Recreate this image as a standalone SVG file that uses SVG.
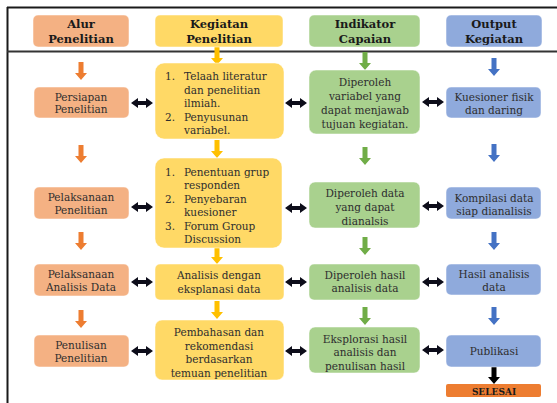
<svg xmlns="http://www.w3.org/2000/svg" width="557" height="403" viewBox="0 0 557 403">
<style>
.t{font-family:"DejaVu Serif","Bookman Old Style",serif;font-size:10.5px;fill:#2e2e2e;text-anchor:middle}
.l{text-anchor:start}
.h{font-family:"DejaVu Serif",serif;font-size:11.5px;font-weight:bold;fill:#1a1a1a;text-anchor:middle}
.or{fill:#F4B183}.ye{fill:#FFD966}.gr{fill:#A9D18E}.bl{fill:#8FAADC}
.bx{stroke:#ffffff;stroke-opacity:0.5;stroke-width:1}
</style>
<defs>
<path id="dn" d="M-2.5,0 H2.5 V11 H6 L0,18 L-6,11 H-2.5 Z"/>
<path id="dbl" d="M0,0 L7,-5 V-2 H15 V-5 L22,0 L15,5 V2 H7 V5 Z" fill="#0d0d1a"/>
</defs>
<rect width="557" height="403" fill="#ffffff"/>
<g id="frame" stroke="#1a1a1a" fill="none">
<line x1="7" y1="7.5" x2="557" y2="7.5" stroke-width="2"/>
<line x1="7.5" y1="7" x2="7.5" y2="403" stroke-width="2"/>
<line x1="7" y1="51.5" x2="557" y2="51.5" stroke-width="2" stroke="#333"/>
</g>
<g id="connectors">
<g fill="#ED7D31">
<use href="#dn" x="81" y="62"/><use href="#dn" x="81" y="145"/><use href="#dn" x="81" y="232"/><use href="#dn" x="81" y="310"/>
</g>
<g fill="#FFC000">
<use href="#dn" x="217" y="47"/><use href="#dn" x="217" y="140"/><use href="#dn" x="217" y="246"/><use href="#dn" x="217" y="301"/>
</g>
<g fill="#70AD47">
<use href="#dn" x="365" y="52"/><use href="#dn" x="365" y="147"/><use href="#dn" x="365" y="237"/><use href="#dn" x="365" y="307"/>
</g>
<g fill="#4472C4">
<use href="#dn" x="494" y="58"/><use href="#dn" x="494" y="144"/><use href="#dn" x="494" y="232"/><use href="#dn" x="494" y="307"/>
</g>
<use href="#dn" x="494" y="366" fill="#000"/>
<use href="#dbl" x="131" y="103"/><use href="#dbl" x="285" y="103"/><use href="#dbl" x="422" y="102"/>
<use href="#dbl" x="131" y="207"/><use href="#dbl" x="285" y="208"/><use href="#dbl" x="422" y="206"/>
<use href="#dbl" x="131" y="282"/><use href="#dbl" x="285" y="282"/><use href="#dbl" x="422" y="282"/>
<use href="#dbl" x="131" y="351"/><use href="#dbl" x="285" y="351"/><use href="#dbl" x="422" y="350"/>
</g>
<g id="h-alur"><rect class="or bx" x="33" y="15" width="96" height="32" rx="5"/><text class="h" x="81" y="28">Alur</text><text class="h" x="81" y="43">Penelitian</text></g>
<g id="h-kegiatan"><rect class="ye bx" x="155" y="15" width="128" height="32" rx="5"/><text class="h" x="219" y="28">Kegiatan</text><text class="h" x="219" y="43">Penelitian</text></g>
<g id="h-indikator"><rect class="gr bx" x="309" y="15" width="111" height="32" rx="5"/><text class="h" x="365" y="28">Indikator</text><text class="h" x="365" y="43">Capaian</text></g>
<g id="h-output"><rect class="bl bx" x="446" y="15" width="96" height="32" rx="5"/><text class="h" x="494" y="28">Output</text><text class="h" x="494" y="43">Kegiatan</text></g>

<g id="a1"><rect class="or bx" x="34" y="87" width="95" height="31" rx="5"/><text class="t" x="81" y="101">Persiapan</text><text class="t" x="81" y="113">Penelitian</text></g>
<g id="a2"><rect class="or bx" x="34" y="187" width="95" height="32" rx="5"/><text class="t" x="81" y="201">Pelaksanaan</text><text class="t" x="81" y="214">Penelitian</text></g>
<g id="a3"><rect class="or bx" x="34" y="264" width="95" height="32" rx="5"/><text class="t" x="81" y="278">Pelaksanaan</text><text class="t" x="81" y="291">Analisis Data</text></g>
<g id="a4"><rect class="or bx" x="34" y="335" width="95" height="32" rx="5"/><text class="t" x="81" y="349">Penulisan</text><text class="t" x="81" y="362">Penelitian</text></g>

<g id="k1"><rect class="ye bx" x="155" y="63" width="129" height="76" rx="9"/>
<text class="t l" x="165" y="80">1.</text><text class="t l" x="184" y="80">Telaah literatur</text>
<text class="t l" x="184" y="94">dan penelitian</text><text class="t l" x="184" y="107">ilmiah.</text>
<text class="t l" x="165" y="121">2.</text><text class="t l" x="184" y="121">Penyusunan</text>
<text class="t l" x="184" y="134">variabel.</text></g>
<g id="k2"><rect class="ye bx" x="155" y="158" width="127" height="90" rx="9"/>
<text class="t l" x="165" y="176">1.</text><text class="t l" x="184" y="176">Penentuan grup</text>
<text class="t l" x="184" y="189">responden</text>
<text class="t l" x="165" y="203">2.</text><text class="t l" x="184" y="203">Penyebaran</text>
<text class="t l" x="184" y="216">kuesioner</text>
<text class="t l" x="165" y="230">3.</text><text class="t l" x="184" y="230">Forum Group</text>
<text class="t l" x="184" y="243">Discussion</text></g>
<g id="k3"><rect class="ye bx" x="155" y="264" width="129" height="36" rx="5"/><text class="t" x="219" y="279">Analisis dengan</text><text class="t" x="219" y="293">eksplanasi data</text></g>
<g id="k4"><rect class="ye bx" x="155" y="320" width="129" height="60" rx="7"/><text class="t" x="219" y="336">Pembahasan dan</text><text class="t" x="219" y="350">rekomendasi</text><text class="t" x="219" y="363">berdasarkan</text><text class="t" x="219" y="377">temuan penelitian</text></g>

<g id="i1"><rect class="gr bx" x="309" y="70" width="111" height="64" rx="7"/><text class="t" x="365" y="86">Diperoleh</text><text class="t" x="365" y="100">variabel yang</text><text class="t" x="365" y="114">dapat menjawab</text><text class="t" x="365" y="128">tujuan kegiatan.</text></g>
<g id="i2"><rect class="gr bx" x="309" y="182" width="111" height="46" rx="6"/><text class="t" x="365" y="197">Diperoleh data</text><text class="t" x="365" y="211">yang dapat</text><text class="t" x="365" y="225">dianalsis</text></g>
<g id="i3"><rect class="gr bx" x="309" y="264" width="111" height="36" rx="5"/><text class="t" x="365" y="279">Diperoleh hasil</text><text class="t" x="365" y="292">analisis data</text></g>
<g id="i4"><rect class="gr bx" x="309" y="327" width="111" height="46" rx="6"/><text class="t" x="365" y="343">Eksplorasi hasil</text><text class="t" x="365" y="356">analisis dan</text><text class="t" x="365" y="370">penulisan hasil</text></g>

<g id="o1"><rect class="bl bx" x="446" y="87" width="95" height="31" rx="5"/><text class="t" x="494" y="101">Kuesioner fisik</text><text class="t" x="494" y="114">dan daring</text></g>
<g id="o2"><rect class="bl bx" x="446" y="187" width="95" height="32" rx="5"/><text class="t" x="494" y="202">Kompilasi data</text><text class="t" x="494" y="215">siap dianalisis</text></g>
<g id="o3"><rect class="bl bx" x="446" y="264" width="95" height="31" rx="5"/><text class="t" x="494" y="278">Hasil analisis</text><text class="t" x="494" y="291">data</text></g>
<g id="o4"><rect class="bl bx" x="446" y="335" width="95" height="32" rx="5"/><text class="t" x="494" y="355">Publikasi</text></g>
<g id="selesai"><rect x="446" y="384" width="95" height="13" rx="2" fill="#ED7D31"/><text class="h" x="494" y="394.5" style="font-size:9px">SELESAI</text></g>
</svg>
